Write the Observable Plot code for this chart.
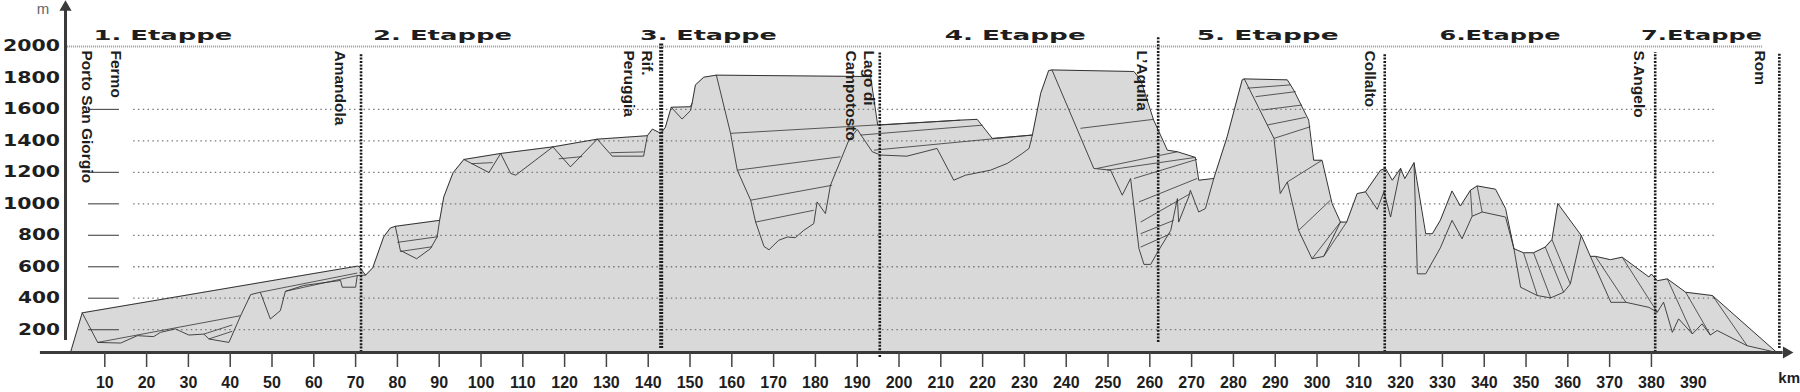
<!DOCTYPE html>
<html>
<head>
<meta charset="utf-8">
<script src="https://cdn.jsdelivr.net/npm/d3@7"></script>
<script src="https://cdn.jsdelivr.net/npm/@observablehq/plot@0.6"></script>
<style>
  html, body { margin: 0; padding: 0; background: #fff; overflow: hidden; }
  svg { display: block; }
</style>
</head>
<body>
<div id="chart"></div>
<script>
// ---------- DATA (km, elevation in m) ----------
const baseElev = 55;

// outer silhouette of the profile
const envelope = [
  [1.8,55],[4.6,307],[70.4,604],[70.8,602],[72.4,547],[74.1,593],[76.7,789],[78.3,846],[79.5,857],
  [90.1,895],[91.1,1044],[93.3,1197],[95.9,1282],[104.7,1320],[117.2,1362],[127.8,1411],[139.8,1433],
  [141,1475],[143,1448],[144.1,1486],[145.5,1614],[150.1,1617],[150.5,1639],[151.3,1756],[153.3,1805],
  [156.3,1818],[193.2,1809],[194.9,1500],[214.7,1532],[218.7,1537],[222.3,1416],[231.9,1437],
  [233.9,1703],[235.8,1847],[236.6,1851],[256.2,1841],[257.8,1788],[260.9,1533],[264.2,1341],
  [266.6,1331],[270.9,1295],[271.7,1150],[275.3,1161],[278.5,1426],[282.1,1788],[282.6,1794],
  [292.9,1788],[294.4,1724],[298,1532],[299.2,1277],[301.2,1277],[303.6,1002],[305.6,884],[307.1,884],
  [309.6,1065],[311.6,1076],[315.2,1214],[316.4,1225],[318,1150],[320,1225],[321,1160],[323.2,1261],
  [326,810],[327.6,810],[329.5,895],[332.3,1082],[334.3,986],[336.7,1086],[338.3,1114],[342.7,1093],
  [345.1,970],[347.1,715],[349.4,689],[351.8,689],[354.6,725],[356.2,772],[357.6,1002],[363.2,799],
  [365.4,666],[366.6,666],[370.2,645],[373,661],[379.4,535],[380,554],[381.4,511],[383.8,523],
  [388.2,438],[394.6,417],[410,55]
];

// inner route lines
const stage1Route = [[4.6,307],[8.3,119],[13.8,115],[17.8,162],[21.7,156],[23.3,183],[26.9,205],[30.1,166],
  [33.7,172],[34.9,141],[39.7,119],[42.5,289],[44.9,423],[47.2,438],[49.6,268],[52,321],[53.2,444],
  [57.6,481],[66.4,513],[66.8,470],[70,470],[70.4,544],[72.4,547]];
const stage2Dip = [[79.5,857],[80.7,704],[84.6,651],[87.9,715],[89.5,789],[90.1,895]];
const stage2RidgeA = [[95.9,1282],[101.9,1199],[104.7,1320]];
const stage2RidgeB = [[104.7,1320],[107.1,1193],[108.3,1182],[117.2,1362]];
const stage2RidgeC = [[117.2,1362],[121.4,1235],[127.8,1411]];
const stage2RidgeD = [[127.8,1411],[131.4,1303],[138.9,1303],[139.8,1433]];
const stage3Dip = [[145.5,1614],[148.1,1539],[150.1,1592],[150.5,1639]];
const stage3Valley = [[156.3,1818],[159.7,1448],[161.3,1214],[164.5,1023],[165.7,884],[167.7,729],
  [168.9,708],[171.2,768],[173.3,789],[175.2,785],[177.2,831],[179.6,874],[180.4,1012],[182.4,938],
  [183.6,1118],[188,1405],[190,1473],[193.6,1331],[195.6,1310],[201.9,1303],[209.1,1352],[213.1,1150],
  [215.9,1182],[221.9,1214],[225.9,1257],[229.5,1320],[231.1,1352],[231.9,1437]];
const stage4Descent = [[236.6,1851],[246.6,1225],[250.6,1214],[253.4,1055],[255.4,1161],[257.4,715],
  [258.6,615],[260.2,615],[262.1,704],[265,831],[266.6,1033],[266.9,884],[269.3,1044],[269.7,1086],
  [271.7,948],[273.3,970],[275.3,1161]];
const stage5Descent = [[282.6,1794],[289.7,1416],[291.2,1065],[292.9,1139],[295.6,831],[298.8,651],
  [301.6,666],[305.6,884]];
const stage5Collalto = [[311.6,1076],[314.4,965],[316,1076],[317.6,916],[320,1225]];
const stage6Hills = [[323.2,1261],[324,555],[326,555],[329.5,720],[332.3,895],[334.7,778],[337.1,921],
  [339.5,948],[345.1,916],[347.1,715]];
const stage6Valley = [[347.1,715],[348.7,470],[352.7,417],[355.9,402],[359,438],[360.6,491],[363.2,799]];
const stage7Route = [[365.4,666],[370.3,374],[373.9,374],[379.4,342],[381.4,311],[382.9,375],[385,183],
  [386.5,269],[389.8,173],[392.1,237],[394.1,166],[395.7,195],[402.9,98],[410,55]];

const routeLines = [stage1Route, stage2Dip, stage2RidgeA, stage2RidgeB, stage2RidgeC, stage2RidgeD,
  stage3Dip, stage3Valley, stage4Descent, stage5Descent, stage5Collalto, stage6Hills, stage6Valley, stage7Route];

// shading lines (pairs of [km, elev])
const shadeLines = [
  [[8.3,119],[42.5,289]], [[47.2,438],[70.4,560]], [[53.2,444],[70.4,544]],
  [[33.7,172],[40.5,230]], [[34.9,141],[40.5,190]],
  [[80,755],[89.7,791]], [[80.6,697],[88.3,727]],
  [[97.7,1255],[102.8,1262]], [[118.6,1286],[124.2,1300]], [[131,1325],[138.9,1330]],
  [[159.7,1448],[214.7,1532]], [[161.3,1214],[186,1299]], [[164.5,1023],[184,1118]],
  [[165.7,884],[179.6,959]], [[190.8,1437],[220,1500]], [[194,1341],[231.9,1437]],
  [[243.4,1480],[260.9,1537]], [[247.4,1225],[266.6,1331]], [[249.8,1214],[270.9,1295]],
  [[256.2,1161],[271.3,1283]], [[257.4,1012],[271.3,1161]], [[257.8,884],[269.7,1065]],
  [[257.8,810],[265.7,895]], [[257.8,725],[265,810]],
  [[283.3,1735],[293.7,1756]], [[285.3,1681],[294.9,1713]], [[286.9,1596],[296.4,1628]],
  [[288.1,1501],[297.3,1550]], [[289.7,1416],[298.4,1490]], [[292.9,1139],[301.2,1277]],
  [[295.6,831],[303.2,1023]], [[298.8,651],[305.6,884]], [[301.6,666],[307.1,884]],
  [[336.7,1086],[337.1,921]], [[338.3,1114],[339.5,948]],
  [[349.4,689],[352.7,417]], [[351.8,689],[355.9,402]], [[354.6,725],[359,438]], [[356.2,772],[360.6,491]],
  [[366.6,666],[373.9,374]], [[373,661],[381.4,311]], [[383.8,523],[389.8,173]],
  [[388.2,438],[394.1,166]], [[394.6,417],[402.9,98]]
];

const gridLevels = [200, 400, 600, 800, 1000, 1200, 1400, 1600];
const leftMarkLevels = [200, 400, 600, 800, 1000, 1200, 1600];
const topLevel = [2000];
const yTicks = [200, 400, 600, 800, 1000, 1200, 1400, 1600, 1800, 2000];
const xTickMarks = [10,20,30,40,50,60,70,80,90,100,110,120,130,140,150,160,170,180,190,200,
  210,220,230,240,250,260,270,280,290,300,310,320,330,340,350,360,370,380];
const xTickLabels = [10,20,30,40,50,60,70,80,90,100,110,120,130,140,150,160,170,180,190,200,
  210,220,230,240,250,260,270,280,290,300,310,320,330,340,350,360,370,380,390];

const stageNames = ["1. Etappe", "2. Etappe", "3. Etappe", "4. Etappe", "5. Etappe", "6.Etappe", "7.Etappe"];
const stageCenterKm = [23.9, 90.8, 154.4, 227.8, 288.2, 343.8, 392.0];

const placeNames = ["Porto San Giorgio", "Fermo", "Amandola", "Rif.\nPeruggia", "Lago di\nCampotosto",
  "L’Aquila", "Collalto", "S.Angelo", "Rom"];
const placeLabelKm = [6.0, 12.8, 66.4, 137.7, 190.8, 258.4, 312.8, 377.2, 406.1];

const boundaryKm = [71.3, 143.1, 195.4, 262.0, 316.2, 380.9, 410.6];
const boundaryTop = [1955, 2019, 1962, 2057, 1955, 1962, 1955];
const boundaryBottom = [55, 80, 23, 119, 55, 55, 80];

// ---------- derived tables ----------
const envData = envelope.map(([km, elev]) => ({km, elev}));
const routeData = routeLines.flatMap((line, id) => line.map(([km, elev]) => ({id, km, elev})));
const shadeData = shadeLines.map(([[km1, e1], [km2, e2]]) => ({km1, e1, km2, e2}));
const stages = stageNames.map((label, i) => ({label, km: stageCenterKm[i]}));
const places = placeNames.map((name, i) => ({name, km: placeLabelKm[i]}));
const boundaries = boundaryKm.map((km, i) => ({km, top: boundaryTop[i], bottom: boundaryBottom[i]}));

const ink = "#333";
const boldFont = "'Liberation Sans', Arial, sans-serif";
const wideFont = "'DejaVu Sans', sans-serif";

const chart = Plot.plot({
  width: 1800,
  height: 392,
  marginLeft: 62.5,
  marginRight: 15.3,
  marginTop: 46,
  marginBottom: 40,
  x: {domain: [0, 412], axis: null},
  y: {domain: [baseElev, 2000], axis: null},
  style: {background: "#fff", overflow: "visible"},
  marks: [
    // filled silhouette
    Plot.areaY(envData, {x: "km", y1: baseElev, y2: "elev", fill: "#d9d9d9"}),
    // grid
    Plot.ruleY(gridLevels, {x1: 16.9, x2: 395.8, stroke: "#7a7a7a", strokeWidth: 1.3, strokeDasharray: "1.5,3.3"}),
    Plot.ruleY(topLevel, {x1: 1.1, x2: 406.8, stroke: "#9a9a9a", strokeWidth: 2, strokeDasharray: "1,1"}),
    Plot.ruleY(leftMarkLevels, {x1: 6.1, x2: 13.5, stroke: "#555", strokeWidth: 1.2}),
    // silhouette outline, route and shading lines
    Plot.line(envData, {x: "km", y: "elev", stroke: ink, strokeWidth: 1}),
    Plot.line(routeData, {x: "km", y: "elev", z: "id", stroke: ink, strokeWidth: 0.9}),
    Plot.link(shadeData, {x1: "km1", y1: "e1", x2: "km2", y2: "e2", stroke: ink, strokeWidth: 0.8}),
    // stage boundaries
    Plot.ruleX(boundaries, {x: "km", y1: "bottom", y2: "top", stroke: "#1a1a1a",
      strokeWidth: (d) => d.km === 143.1 ? 4 : 2.6, strokeDasharray: "2,1.4"}),
    // x axis
    Plot.ruleY([baseElev], {x1: -5.4, x2: 411.5, stroke: "#3a3a3a", strokeWidth: 3}),
    Plot.dot([baseElev], {x: 412.3, y: (d) => d, symbol: "triangle", rotate: 90, r: 4.5, fill: "#3a3a3a", stroke: "none"}),
    Plot.axisX({ticks: xTickMarks, tickSize: 15, tickFormat: () => "", stroke: "#444", strokeWidth: 1.5, label: null}),
    Plot.axisX({ticks: xTickLabels, tickSize: 0, tickPadding: 24, tickFormat: (d) => `${d}`, label: null,
      fontSize: 16, fontWeight: "bold", fontFamily: "'Liberation Sans Narrow', " + boldFont, fill: "#1e1e1e"}),
    // y axis
    Plot.ruleX([0.6], {y1: 131, y2: 2262, stroke: "#3a3a3a", strokeWidth: 3}),
    Plot.dot([0.6], {x: (d) => d, y: 2250, symbol: "triangle", r: 4.5, fill: "#3a3a3a", stroke: "none"}),
    Plot.axisY({ticks: yTicks, tickSize: 0, tickPadding: 3, tickFormat: (d) => `${d}`, label: null,
      fontSize: 15, fontWeight: "bold", fontFamily: wideFont, fill: "#1e1e1e"}),
    // stage titles
    Plot.text(stages, {x: "km", text: "label", frameAnchor: "top", dy: -7, lineAnchor: "bottom",
      fontSize: 14, fontWeight: "bold", fontFamily: wideFont, fill: "#1e1e1e"}),
    // place names
    Plot.text(places, {x: "km", text: "name", frameAnchor: "top", dy: 4, rotate: 90, textAnchor: "start",
      lineAnchor: "middle", lineHeight: 1.15, fontSize: 15.5, fontWeight: "bold", fontFamily: boldFont, fill: "#1e1e1e"}),
    // unit labels
    Plot.text(["m"], {frameAnchor: "top-left", dx: -20, dy: -37, textAnchor: "middle", lineAnchor: "middle",
      fontSize: 15, fontFamily: boldFont, fill: "#666"}),
    Plot.text(["km"], {frameAnchor: "bottom-right", dx: 4, dy: 26, textAnchor: "middle", lineAnchor: "middle",
      fontSize: 15, fontWeight: "bold", fontFamily: boldFont, fill: "#1e1e1e"})
  ]
});

document.getElementById("chart").appendChild(chart);

// widen the heavy display lettering like the original
const stageWidths = {"1. Etappe": 139, "2. Etappe": 139, "3. Etappe": 137, "4. Etappe": 141,
  "5. Etappe": 142, "6.Etappe": 121, "7.Etappe": 121};
chart.querySelectorAll("text").forEach((t) => {
  const s = t.textContent;
  if (stageWidths[s]) {
    t.setAttribute("textLength", stageWidths[s]);
    t.setAttribute("lengthAdjust", "spacingAndGlyphs");
  } else if (/^\d+$/.test(s)) {
    const r = t.getBoundingClientRect();
    if (r.right < 75) {
      t.setAttribute("textLength", s.length === 4 ? 57 : 42);
      t.setAttribute("lengthAdjust", "spacingAndGlyphs");
    }
  }
});
</script>
</body>
</html>
